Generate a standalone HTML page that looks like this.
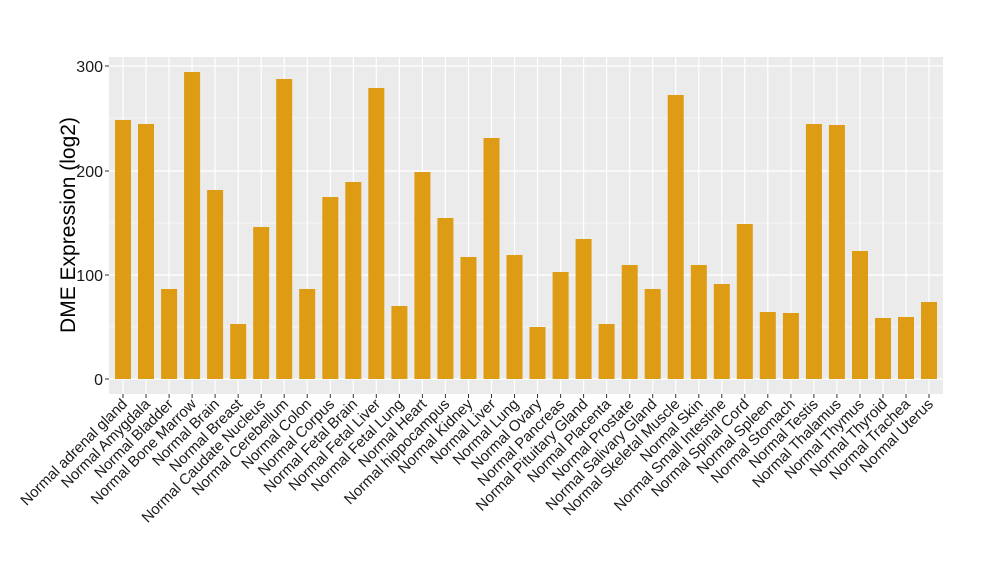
<!DOCTYPE html>
<html><head><style>body{margin:0;background:#fff}svg{display:block}</style></head><body>
<svg width="1000" height="580" xmlns="http://www.w3.org/2000/svg" font-family="Liberation Sans, sans-serif">
<rect x="109" y="57" width="834" height="337" fill="#ebebeb"/>
<g stroke="#fff" stroke-width="0.6">
<line x1="109" x2="943" y1="327" y2="327"/><line x1="109" x2="943" y1="223" y2="223"/><line x1="109" x2="943" y1="118" y2="118"/>
</g>
<g stroke="#fff" stroke-width="1.2">
<line x1="109" x2="943" y1="379" y2="379"/><line x1="109" x2="943" y1="275" y2="275"/><line x1="109" x2="943" y1="171" y2="171"/><line x1="109" x2="943" y1="66" y2="66"/>
<line x1="123" x2="123" y1="57" y2="394"/><line x1="146" x2="146" y1="57" y2="394"/><line x1="169.1" x2="169.1" y1="57" y2="394"/><line x1="192.1" x2="192.1" y1="57" y2="394"/><line x1="215.1" x2="215.1" y1="57" y2="394"/><line x1="238.2" x2="238.2" y1="57" y2="394"/><line x1="261.2" x2="261.2" y1="57" y2="394"/><line x1="284.2" x2="284.2" y1="57" y2="394"/><line x1="307.2" x2="307.2" y1="57" y2="394"/><line x1="330.3" x2="330.3" y1="57" y2="394"/><line x1="353.3" x2="353.3" y1="57" y2="394"/><line x1="376.3" x2="376.3" y1="57" y2="394"/><line x1="399.4" x2="399.4" y1="57" y2="394"/><line x1="422.4" x2="422.4" y1="57" y2="394"/><line x1="445.4" x2="445.4" y1="57" y2="394"/><line x1="468.5" x2="468.5" y1="57" y2="394"/><line x1="491.5" x2="491.5" y1="57" y2="394"/><line x1="514.5" x2="514.5" y1="57" y2="394"/><line x1="537.5" x2="537.5" y1="57" y2="394"/><line x1="560.6" x2="560.6" y1="57" y2="394"/><line x1="583.6" x2="583.6" y1="57" y2="394"/><line x1="606.6" x2="606.6" y1="57" y2="394"/><line x1="629.7" x2="629.7" y1="57" y2="394"/><line x1="652.7" x2="652.7" y1="57" y2="394"/><line x1="675.7" x2="675.7" y1="57" y2="394"/><line x1="698.8" x2="698.8" y1="57" y2="394"/><line x1="721.8" x2="721.8" y1="57" y2="394"/><line x1="744.8" x2="744.8" y1="57" y2="394"/><line x1="767.8" x2="767.8" y1="57" y2="394"/><line x1="790.9" x2="790.9" y1="57" y2="394"/><line x1="813.9" x2="813.9" y1="57" y2="394"/><line x1="836.9" x2="836.9" y1="57" y2="394"/><line x1="860" x2="860" y1="57" y2="394"/><line x1="883" x2="883" y1="57" y2="394"/><line x1="906" x2="906" y1="57" y2="394"/><line x1="929" x2="929" y1="57" y2="394"/>
</g>
<g fill="#de9b14">
<rect x="115" y="120" width="16" height="259"/>
<rect x="138" y="124" width="16" height="255"/>
<rect x="161.1" y="289" width="16" height="90"/>
<rect x="184.1" y="72" width="16" height="307"/>
<rect x="207.1" y="190" width="16" height="189"/>
<rect x="230.2" y="324" width="16" height="55"/>
<rect x="253.2" y="227" width="16" height="152"/>
<rect x="276.2" y="79" width="16" height="300"/>
<rect x="299.2" y="289" width="16" height="90"/>
<rect x="322.3" y="197" width="16" height="182"/>
<rect x="345.3" y="182" width="16" height="197"/>
<rect x="368.3" y="88" width="16" height="291"/>
<rect x="391.4" y="306" width="16" height="73"/>
<rect x="414.4" y="172" width="16" height="207"/>
<rect x="437.4" y="218" width="16" height="161"/>
<rect x="460.5" y="257" width="16" height="122"/>
<rect x="483.5" y="138" width="16" height="241"/>
<rect x="506.5" y="255" width="16" height="124"/>
<rect x="529.5" y="327" width="16" height="52"/>
<rect x="552.6" y="272" width="16" height="107"/>
<rect x="575.6" y="239" width="16" height="140"/>
<rect x="598.6" y="324" width="16" height="55"/>
<rect x="621.7" y="265" width="16" height="114"/>
<rect x="644.7" y="289" width="16" height="90"/>
<rect x="667.7" y="95" width="16" height="284"/>
<rect x="690.8" y="265" width="16" height="114"/>
<rect x="713.8" y="284" width="16" height="95"/>
<rect x="736.8" y="224" width="16" height="155"/>
<rect x="759.8" y="312" width="16" height="67"/>
<rect x="782.9" y="313" width="16" height="66"/>
<rect x="805.9" y="124" width="16" height="255"/>
<rect x="828.9" y="125" width="16" height="254"/>
<rect x="852" y="251" width="16" height="128"/>
<rect x="875" y="318" width="16" height="61"/>
<rect x="898" y="317" width="16" height="62"/>
<rect x="921" y="302" width="16" height="77"/>
</g>
<g font-size="16" fill="#1a1a1a" text-anchor="end">
<text x="103" y="385">0</text><text x="103" y="281">100</text><text x="103" y="177">200</text><text x="103" y="72">300</text>
</g>
<g stroke="#333" stroke-width="1"><line x1="105" x2="109" y1="379" y2="379"/><line x1="105" x2="109" y1="275" y2="275"/><line x1="105" x2="109" y1="171" y2="171"/><line x1="105" x2="109" y1="66" y2="66"/></g>
<text transform="translate(75,225) rotate(-90)" font-size="21" text-anchor="middle" fill="#000">DME Expression (log2)</text>
<g font-size="15" fill="#1a1a1a" text-anchor="end">
<text transform="translate(128,405) rotate(-45)">Normal adrenal gland</text>
<text transform="translate(151,405) rotate(-45)">Normal Amygdala</text>
<text transform="translate(174.1,405) rotate(-45)">Normal Bladder</text>
<text transform="translate(197.1,405) rotate(-45)">Normal Bone Marrow</text>
<text transform="translate(220.1,405) rotate(-45)">Normal Brain</text>
<text transform="translate(243.2,405) rotate(-45)">Normal Breast</text>
<text transform="translate(266.2,405) rotate(-45)">Normal Caudate Nucleus</text>
<text transform="translate(289.2,405) rotate(-45)">Normal Cerebellum</text>
<text transform="translate(312.2,405) rotate(-45)">Normal Colon</text>
<text transform="translate(335.3,405) rotate(-45)">Normal Corpus</text>
<text transform="translate(358.3,405) rotate(-45)">Normal Fetal Brain</text>
<text transform="translate(381.3,405) rotate(-45)">Normal Fetal Liver</text>
<text transform="translate(404.4,405) rotate(-45)">Normal Fetal Lung</text>
<text transform="translate(427.4,405) rotate(-45)">Normal Heart</text>
<text transform="translate(450.4,405) rotate(-45)">Normal hippocampus</text>
<text transform="translate(473.5,405) rotate(-45)">Normal Kidney</text>
<text transform="translate(496.5,405) rotate(-45)">Normal Liver</text>
<text transform="translate(519.5,405) rotate(-45)">Normal Lung</text>
<text transform="translate(542.5,405) rotate(-45)">Normal Ovary</text>
<text transform="translate(565.6,405) rotate(-45)">Normal Pancreas</text>
<text transform="translate(588.6,405) rotate(-45)">Normal Pituitary Gland</text>
<text transform="translate(611.6,405) rotate(-45)">Normal Placenta</text>
<text transform="translate(634.7,405) rotate(-45)">Normal Prostate</text>
<text transform="translate(657.7,405) rotate(-45)">Normal Salivary Gland</text>
<text transform="translate(680.7,405) rotate(-45)">Normal Skeletal Muscle</text>
<text transform="translate(703.8,405) rotate(-45)">Normal Skin</text>
<text transform="translate(726.8,405) rotate(-45)">Normal Small Intestine</text>
<text transform="translate(749.8,405) rotate(-45)">Normal Spinal Cord</text>
<text transform="translate(772.8,405) rotate(-45)">Normal Spleen</text>
<text transform="translate(795.9,405) rotate(-45)">Normal Stomach</text>
<text transform="translate(818.9,405) rotate(-45)">Normal Testis</text>
<text transform="translate(841.9,405) rotate(-45)">Normal Thalamus</text>
<text transform="translate(865,405) rotate(-45)">Normal Thymus</text>
<text transform="translate(888,405) rotate(-45)">Normal Thyroid</text>
<text transform="translate(911,405) rotate(-45)">Normal Trachea</text>
<text transform="translate(934,405) rotate(-45)">Normal Uterus</text>
</g>
<g stroke="#333"><line x1="123" x2="123" y1="394" y2="398"/><line x1="146" x2="146" y1="394" y2="398"/><line x1="169.1" x2="169.1" y1="394" y2="398"/><line x1="192.1" x2="192.1" y1="394" y2="398"/><line x1="215.1" x2="215.1" y1="394" y2="398"/><line x1="238.2" x2="238.2" y1="394" y2="398"/><line x1="261.2" x2="261.2" y1="394" y2="398"/><line x1="284.2" x2="284.2" y1="394" y2="398"/><line x1="307.2" x2="307.2" y1="394" y2="398"/><line x1="330.3" x2="330.3" y1="394" y2="398"/><line x1="353.3" x2="353.3" y1="394" y2="398"/><line x1="376.3" x2="376.3" y1="394" y2="398"/><line x1="399.4" x2="399.4" y1="394" y2="398"/><line x1="422.4" x2="422.4" y1="394" y2="398"/><line x1="445.4" x2="445.4" y1="394" y2="398"/><line x1="468.5" x2="468.5" y1="394" y2="398"/><line x1="491.5" x2="491.5" y1="394" y2="398"/><line x1="514.5" x2="514.5" y1="394" y2="398"/><line x1="537.5" x2="537.5" y1="394" y2="398"/><line x1="560.6" x2="560.6" y1="394" y2="398"/><line x1="583.6" x2="583.6" y1="394" y2="398"/><line x1="606.6" x2="606.6" y1="394" y2="398"/><line x1="629.7" x2="629.7" y1="394" y2="398"/><line x1="652.7" x2="652.7" y1="394" y2="398"/><line x1="675.7" x2="675.7" y1="394" y2="398"/><line x1="698.8" x2="698.8" y1="394" y2="398"/><line x1="721.8" x2="721.8" y1="394" y2="398"/><line x1="744.8" x2="744.8" y1="394" y2="398"/><line x1="767.8" x2="767.8" y1="394" y2="398"/><line x1="790.9" x2="790.9" y1="394" y2="398"/><line x1="813.9" x2="813.9" y1="394" y2="398"/><line x1="836.9" x2="836.9" y1="394" y2="398"/><line x1="860" x2="860" y1="394" y2="398"/><line x1="883" x2="883" y1="394" y2="398"/><line x1="906" x2="906" y1="394" y2="398"/><line x1="929" x2="929" y1="394" y2="398"/></g>
</svg>
</body></html>
